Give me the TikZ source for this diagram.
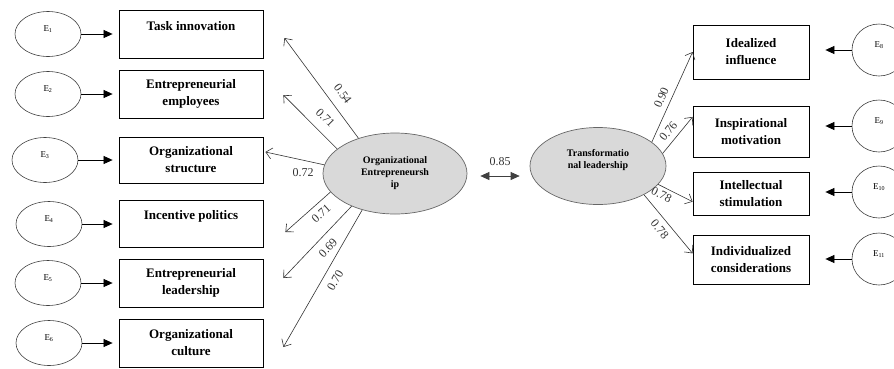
\documentclass[tikz,border=0pt]{standalone}
\usepackage{fontspec}
\setmainfont{Liberation Serif}
\usetikzlibrary{arrows.meta,shapes.geometric}

\tikzset{
  box/.style={draw, line width=0.8pt, minimum width=144pt, minimum height=48pt, inner sep=0pt, align=center, font=\fontsize{13}{17}\selectfont\bfseries},
  rbox/.style={box, minimum width=116pt},
  err/.style={draw=black!75, ellipse, line width=0.6pt, minimum width=66pt, minimum height=45pt, inner sep=0pt, font=\fontsize{9}{10}\selectfont, text height=5pt, text depth=11pt},
  rerr/.style={err, minimum width=54pt, minimum height=52pt},
  latent/.style={draw=black!60, ellipse, fill=black!15, line width=0.7pt, inner sep=0pt, align=center, font=\fontsize{10}{12}\selectfont\bfseries},
  errarr/.style={-{Triangle[length=9pt,width=8pt]}, line width=0.7pt},
  load/.style={-{Straight Barb[length=6pt,width=11pt]}, draw=black!80, line width=0.6pt},
  corr/.style={{Triangle[length=9pt,width=8pt]}-{Triangle[length=9pt,width=8pt]}, draw=black!75, line width=0.7pt},
  coef/.style={font=\fontsize{12}{14}\selectfont, text=black!80}
}

\begin{document}
\begin{tikzpicture}[x=1pt,y=1pt]
\useasboundingbox (0,0) rectangle (894,-368);

% organizational entrepreneurship side
\node[box] (b1) at (191,-34) {Task innovation\\\mbox{}};
\node[box] (b2) at (191,-94) {Entrepreneurial\\employees};
\node[box, minimum height=46pt] (b3) at (191,-160) {Organizational\\structure};
\node[box, minimum height=47pt] (b4) at (191,-223.5) {Incentive politics\\\mbox{}};
\node[box] (b5) at (191,-283) {Entrepreneurial\\leadership};
\node[box] (b6) at (191,-343) {Organizational\\culture};

\node[err] (e1) at (48,-34) {E\textsubscript{1}};
\node[err] (e2) at (48,-94) {E\textsubscript{2}};
\node[err] (e3) at (45,-160) {E\textsubscript{3}};
\node[err] (e4) at (49,-224) {E\textsubscript{4}};
\node[err] (e5) at (48,-283) {E\textsubscript{5}};
\node[err] (e6) at (49,-343) {E\textsubscript{6}};

\draw[errarr, shorten >=6pt] (e1) -- (e1 -| b1.west);
\draw[errarr, shorten >=6pt] (e2) -- (e2 -| b2.west);
\draw[errarr, shorten >=6pt] (e3) -- (e3 -| b3.west);
\draw[errarr, shorten >=6pt] (e4) -- (e4 -| b4.west);
\draw[errarr, shorten >=6pt] (e5) -- (e5 -| b5.west);
\draw[errarr, shorten >=6pt] (e6) -- (e6 -| b6.west);

\node[latent, minimum width=144pt, minimum height=81pt] (oe) at (395,-173.5) {Organizational\\Entrepreneursh\\ip};

\coordinate (t1) at ([xshift=21,yshift=-4]b1.east);
\coordinate (t2) at ([xshift=20,yshift=-1]b2.east);
\coordinate (t3) at ([xshift=2,yshift=8]b3.east);
\coordinate (t4) at ([xshift=22,yshift=-8.5]b4.east);
\coordinate (t5) at ([xshift=20,yshift=5]b5.east);
\coordinate (t6) at ([xshift=20,yshift=-4]b6.east);

\draw[load] (oe.136) -- (t1) node[coef, pos=.36, sloped, above=6pt] {0.54};
\draw[load] (oe.157) -- (t2) node[coef, pos=.4, sloped, above=6pt] {0.71};
\draw[load] (oe.173.5) -- (t3) node[coef, pos=.36, below=5pt] {0.72};
\draw[load] (oe.196) -- (t4) node[coef, pos=.35, sloped, below=2pt] {0.71};
\draw[load] (oe.217) -- (t5) node[coef, pos=.47, sloped, below=4pt] {0.69};
\draw[load] (oe.228) -- (t6) node[coef, pos=.47, sloped, below=4pt] {0.70};

% transformational leadership side
\node[latent, minimum width=136pt, minimum height=77pt, text depth=14pt] (tl) at (598,-166) {Transformatio\\nal leadership};

\draw[corr] ([xshift=13,yshift=-2.5]oe.east) -- ([xshift=-10,yshift=-10]tl.west) node[coef, midway, above=7pt] {0.85};

\node[rbox, minimum height=54pt] (b7) at (751,-52) {Idealized\\influence};
\node[rbox, minimum height=51pt] (b8) at (751,-131.5) {Inspirational\\motivation};
\node[rbox, minimum height=43pt] (b9) at (751,-193.5) {Intellectual\\stimulation};
\node[rbox, minimum height=49pt] (b10) at (751,-259.5) {Individualized\\considerations};

\node[rerr] (e8) at (879,-50) {E\textsubscript{8}};
\node[rerr] (e9) at (879,-126) {E\textsubscript{9}};
\node[rerr] (e10) at (879,-192) {E\textsubscript{10}};
\node[rerr] (e11) at (879,-259) {E\textsubscript{11}};

\draw[errarr, shorten >=16pt] (e8) -- (e8 -| b7.east);
\draw[errarr, shorten >=16pt] (e9) -- (e9 -| b8.east);
\draw[errarr, shorten >=16pt] (e10) -- (e10 -| b9.east);
\draw[errarr, shorten >=16pt] (e11) -- (e11 -| b10.east);

\draw[load] (tl.24) -- (b7.west) node[coef, pos=.45, sloped, above=2pt] {0.90};
\draw[load] (tl.11) -- (b8.166) node[coef, pos=.44, sloped, above=2pt] {0.76};
\draw[load] (tl.343) -- (b9.188) node[coef, pos=.2, sloped, below=0pt] {0.78};
\draw[load] (tl.328) -- (b10.174) node[coef, pos=.48, sloped, below=2pt] {0.78};

\end{tikzpicture}
\end{document}
